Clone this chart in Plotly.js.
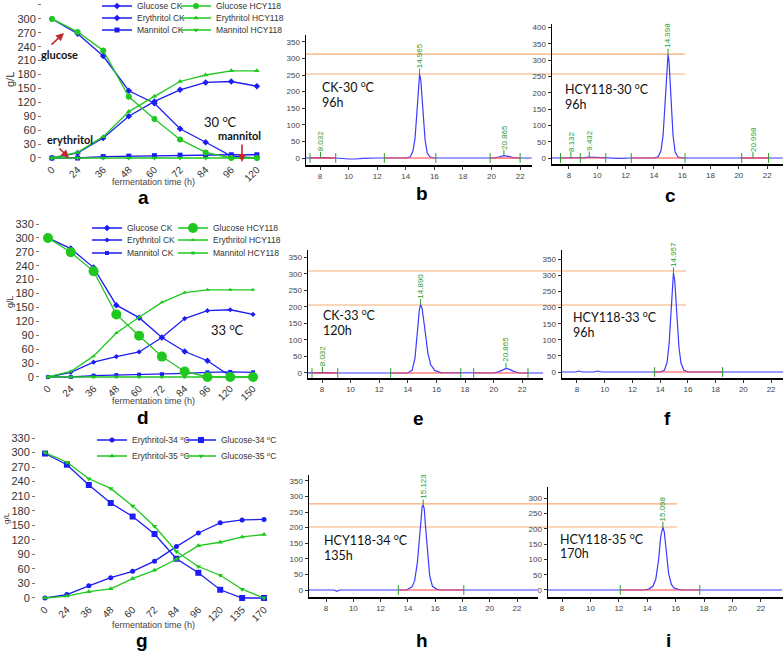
<!DOCTYPE html>
<html><head><meta charset="utf-8">
<script src="https://cdn.plot.ly/plotly-3.0.1.min.js"></script>
<style>html,body{margin:0;padding:0;background:#fff}#chart{width:783px;height:653px}</style>
</head><body><div id="chart"></div>
<script>
// ---------------- data: panel a (30 °C) ----------------
const timesA = ['0','24','36','48','60','72','84','96','120'];
const glucoseCK_A = [300,268,220,145,118,63,34,4,0];
const erythritolCK_A = [0,11,43,90,122,147,163,165,155];
const mannitolCK_A = [0,0,3,4,5,6,6,7,7];
const glucoseHCY_A = [300,272,232,132,84,40,12,0,0];
const erythritolHCY_A = [0,12,46,100,133,165,179,188,188];
const mannitolHCY_A = [0,0,0,0,0,0,0,0,0];
// ---------------- data: panel d (33 °C) ----------------
const timesD = ['0','24','36','48','60','72','84','96','120','150'];
const glucoseCK_D = [300,277,236,155,128,85,55,35,2,null];
const erythritolCK_D = [0,10,32,44,54,85,126,143,145,135];
const mannitolCK_D = [0,0,3,4,5,6,8,10,11,10];
const glucoseHCY_D = [300,269,228,135,89,44,12,0,0,0];
const erythritolHCY_D = [0,12,45,95,129,161,182,188,188,188];
const mannitolHCY_D = [0,0,0,0,0,0,0,0,0,0];
// ---------------- data: panel g (34/35 °C) ----------------
const timesG = ['0','24','36','48','60','72','84','96','120','135','170'];
const erythritol34 = [0,7,25,42,55,76,106,134,155,161,162];
const erythritol35 = [0,4,13,19,40,57,80,108,115,126,131];
const glucose34 = [298,275,233,196,168,132,81,52,17,0,0];
const glucose35 = [300,280,246,226,190,148,96,65,47,18,0];
// ---------------- chromatograms (time min, signal) ----------------
const tB = [7.0,7.8,8.032,8.3,9.1,9.5,10.0,10.5,11.0,12.0,14.0,14.3,14.5,14.65,14.8,14.9,14.965,15.05,15.2,15.35,15.5,15.7,16.0,20.2,20.5,20.865,21.2,21.5,21.8,22.8];
const sB = [0,1,2,1,0,-2,-3,-3,-1,0,0,3,20,60,160,235,252,235,150,55,15,3,0,0,3,7,5,1,0,0];
const tC = [6.8,7.6,8.132,8.5,9.1,9.432,9.8,10.2,10.6,11.0,11.5,12.4,14.0,14.3,14.5,14.65,14.8,14.93,14.998,15.07,15.2,15.35,15.5,15.7,16.0,20.5,20.998,21.5,23.1];
const sC = [0,0,1,0,1,3,2,1,1,-1,-1,0,0,4,22,70,180,290,318,295,190,70,18,3,0,0,1,0,0];
const tE = [7.0,7.8,8.032,8.3,9.0,12.0,14.0,14.3,14.5,14.7,14.8,14.89,15.0,15.2,15.4,15.6,15.9,16.3,20.0,20.4,20.65,20.865,21.1,21.4,21.8,23.45];
const sE = [0,1,2,1,0,0,0,8,45,140,190,207,195,130,60,25,7,1,0,4,10,14,11,5,0,0];
const tF = [6.9,7.9,8.15,8.4,9.2,9.5,9.8,12.0,14.0,14.3,14.5,14.65,14.8,14.9,14.957,15.05,15.2,15.35,15.5,15.7,16.0,22.9];
const sF = [0,0,3,0,0,3,0,0,0,5,30,90,210,290,307,285,185,80,28,6,0,0];
const tH = [6.75,8.6,8.8,9.0,12.0,13.9,14.3,14.5,14.7,14.85,15.0,15.05,15.123,15.2,15.3,15.45,15.6,15.8,16.1,16.4,23.5];
const sH = [0,0,-4,0,0,0,10,30,90,170,250,268,272,260,200,110,45,12,3,0,0];
const tI = [7.0,13.8,14.1,14.4,14.6,14.8,14.95,15.098,15.2,15.35,15.5,15.7,15.9,16.2,16.5,23.5];
const sI = [0,0,3,12,35,100,175,205,190,120,55,18,6,2,0,0];
// peak labels
const peakTimesB = [8.032,14.965,20.865], peakHeightsB = [2,252,7];
const peakTimesC = [8.132,9.432,14.998,20.998], peakHeightsC = [1,3,318,1];
const peakTimesE = [8.032,14.890,20.865], peakHeightsE = [2,207,14];
const peakTimesF = [14.957], peakHeightsF = [307];
const peakTimesH = [15.123], peakHeightsH = [272];
const peakTimesI = [15.098], peakHeightsI = [205];
// integration marks and baselines
const marksB = [7.3,9.1,12.5,16.1,19.9,22.0];
const marksC = [7.4,8.8,10.6,12.4,16.2,20.2,22.1];
const marksE = [7.3,9.1,12.8,17.7,18.6,22.4];
const marksF = [13.6,18.5];
const marksH = [13.3,18.1];
const marksI = [12.1,17.7];
const baseB = [[7.3,9.1],[12.5,16.1],[19.9,22.0]];
const baseC = [[7.4,10.6],[12.4,16.2],[20.2,22.1]];
const baseE = [[7.3,9.1],[12.8,17.7],[18.6,22.4]];
const baseF = [[13.6,18.5]];
const baseH = [[13.3,18.1]];
const baseI = [[12.1,17.7]];
// orange reference levels
const refLinesB = [313,253];
const refLinesE = [309,206];
const refLinesH = [276,202];

// ---------------- helpers ----------------
const W = 783, H = 653;
const P = px => px / W, Q = py => 1 - py / H;
const F = 'Liberation Sans, Arial, sans-serif';
const FC = 'Lato, sans-serif';
const BLUE = '#1c1cf5', GREEN = '#1fc71f';
const CHB = '#3b3bff', RED = '#ff4040', GRN = '#2e9a2e', ORANGE = '#f6ad78';

const traces = [];
const ann = [];
const shapes = [];

function series(x, y, name, color, symbol, size, xa, ya, legend) {
  traces.push({type:'scatter', mode:'lines+markers', x, y, name, xaxis:xa, yaxis:ya, legend,
    line:{color, width:1.3}, marker:{color, symbol, size}, cliponaxis:false});
}

series(timesA, glucoseCK_A, 'Glucose CK', BLUE, 'diamond', 5, 'x', 'y', 'legend');
series(timesA, erythritolCK_A, 'Erythritol CK', BLUE, 'diamond', 5, 'x', 'y', 'legend2');
series(timesA, mannitolCK_A, 'Mannitol CK', BLUE, 'square', 5, 'x', 'y', 'legend3');
series(timesA, glucoseHCY_A, 'Glucose HCY118', GREEN, 'circle', 6, 'x', 'y', 'legend4');
series(timesA, erythritolHCY_A, 'Erythritol HCY118', GREEN, 'triangle-up', 5, 'x', 'y', 'legend5');
series(timesA, mannitolHCY_A, 'Mannitol HCY118', GREEN, 'triangle-down', 5, 'x', 'y', 'legend6');

series(timesD, glucoseCK_D, 'Glucose CK', BLUE, 'diamond', 5, 'x2', 'y2', 'legend7');
series(timesD, erythritolCK_D, 'Erythritol CK', BLUE, 'diamond', 4, 'x2', 'y2', 'legend8');
series(timesD, mannitolCK_D, 'Mannitol CK', BLUE, 'square', 4, 'x2', 'y2', 'legend9');
series(timesD, glucoseHCY_D, 'Glucose HCY118', GREEN, 'circle', 10, 'x2', 'y2', 'legend10');
series(timesD, erythritolHCY_D, 'Erythritol HCY118', GREEN, 'triangle-up', 4, 'x2', 'y2', 'legend11');
series(timesD, mannitolHCY_D, 'Mannitol HCY118', GREEN, 'square', 3, 'x2', 'y2', 'legend12');

series(timesG, erythritol34, 'Erythritol-34 <sup>o</sup>C', BLUE, 'circle', 5, 'x3', 'y3', 'legend13');
series(timesG, glucose34, 'Glucose-34 <sup>o</sup>C', BLUE, 'square', 6, 'x3', 'y3', 'legend15');
series(timesG, erythritol35, 'Erythritol-35 <sup>o</sup>C', GREEN, 'triangle-up', 5, 'x3', 'y3', 'legend14');
series(timesG, glucose35, 'Glucose-35 <sup>o</sup>C', GREEN, 'triangle-down', 5, 'x3', 'y3', 'legend16');

function chrom(t, s, base, marks, pkT, pkH, xa, ya) {
  traces.push({type:'scatter', mode:'lines', x:t, y:s, xaxis:xa, yaxis:ya,
    line:{color:CHB, width:1.2}, showlegend:false});
  const bx = [], by = [];
  base.forEach(([a, b]) => { bx.push(a, b, null); by.push(0, 0, null); });
  traces.push({type:'scatter', mode:'lines', x:bx, y:by, xaxis:xa, yaxis:ya,
    line:{color:RED, width:1.2}, showlegend:false});
  traces.push({type:'scatter', mode:'markers', x:marks, y:marks.map(() => 0), xaxis:xa, yaxis:ya,
    marker:{symbol:'line-ns', size:7, color:GRN, line:{width:1, color:GRN}}, showlegend:false, cliponaxis:false});
  pkT.forEach((tt, i) => {
    const label = tt.toFixed(3);
    const half = label.length * 2.1;           // half of the rotated label length (px)
    ann.push({xref:xa, yref:ya, x:tt, y:pkH[i], text:label, textangle:-90,
      showarrow:true, arrowhead:0, arrowwidth:1, arrowcolor:GRN, ax:0, ay:-(6 + half),
      standoff:0, borderpad:0, font:{size:8, color:GRN, family:F}});
  });
}
chrom(tB, sB, baseB, marksB, peakTimesB, peakHeightsB, 'x4', 'y4');
chrom(tC, sC, baseC, marksC, peakTimesC, peakHeightsC, 'x5', 'y5');
chrom(tE, sE, baseE, marksE, peakTimesE, peakHeightsE, 'x6', 'y6');
chrom(tF, sF, baseF, marksF, peakTimesF, peakHeightsF, 'x7', 'y7');
chrom(tH, sH, baseH, marksH, peakTimesH, peakHeightsH, 'x8', 'y8');
chrom(tI, sI, baseI, marksI, peakTimesI, peakHeightsI, 'x9', 'y9');

function refLines(vals, ya, x0px, x1px) {
  vals.forEach(v => shapes.push({type:'line', xref:'paper', yref:ya, x0:P(x0px), x1:P(x1px), y0:v, y1:v,
    line:{color:ORANGE, width:1.2}, layer:'below'}));
}
refLines(refLinesB, 'y4', 306, 685);
refLines(refLinesE, 'y6', 308, 686);
refLines(refLinesH, 'y8', 309, 677);

// ---------------- axes ----------------
function catX(dom, range, anchor) {
  return {type:'category', domain:[P(dom[0]), P(dom[1])], range, anchor, tickangle:-45,
    tickfont:{size:10, color:'#333', family:F}, ticks:'', showline:false, showgrid:false, zeroline:false, fixedrange:true};
}
function leftY(dom, range, anchor) {
  return {domain:[Q(dom[1]), Q(dom[0])], range, anchor, tick0:0, dtick:30,
    tickfont:{size:11, color:'#333', family:F}, ticks:'outside', ticklen:3, tickcolor:'#777',
    showline:false, showgrid:false, zeroline:false, fixedrange:true};
}
function cX(dom, range, anchor) {
  return {domain:[P(dom[0]), P(dom[1])], range, anchor, tick0:0, dtick:2,
    showline:true, linecolor:'#000', linewidth:1.5, ticks:'outside', ticklen:3, tickcolor:'#333',
    tickfont:{size:8, color:'#444', family:F}, showgrid:false, zeroline:false, fixedrange:true};
}
function cY(dom, range, anchor) {
  return {domain:[Q(dom[1]), Q(dom[0])], range, anchor, tick0:0, dtick:50,
    showline:true, linecolor:'#000', linewidth:1.5, ticks:'outside', ticklen:3, tickcolor:'#333',
    tickfont:{size:8, color:'#444', family:F}, showgrid:false, zeroline:false, fixedrange:true};
}

// ---------------- text ----------------
function txt(x, y, text, size, opts) {
  ann.push(Object.assign({xref:'paper', yref:'paper', x:P(x), y:Q(y), text, showarrow:false,
    xanchor:'center', yanchor:'middle', font:{family:F, size, color:'#111'}}, opts || {}));
}
function arrow(hx, hy, tx, ty) {
  ann.push({xref:'paper', yref:'paper', x:P(hx), y:Q(hy), ax:tx - hx, ay:ty - hy, text:'',
    showarrow:true, arrowhead:2, arrowsize:1, arrowwidth:1.6, arrowcolor:'#c0282d'});
}
// panel letters
[['a',143,198],['b',422,194],['c',670,196],['d',143,417],['e',418,418],['f',667,418],['g',142,640],['h',422,640],['i',668,640]]
  .forEach(([l, x, y]) => txt(x, y, '<b>' + l + '</b>', 19, {font:{family:F, size:19, color:'#000'}}));
// axis titles of left panels
txt(153, 182, 'fermentation time (h)', 9, {font:{family:F, size:9, color:'#444'}});
txt(153, 401, 'fermentation time (h)', 9, {font:{family:F, size:9, color:'#444'}});
txt(153, 625, 'fermentation time (h)', 9, {font:{family:F, size:9, color:'#444'}});
txt(10, 80, 'g/L', 11, {textangle:-90, font:{family:F, size:11, color:'#333'}});
txt(10, 302, 'g/L', 9, {textangle:-90, font:{family:F, size:9, color:'#333'}});
txt(6, 518, 'g/L', 8, {textangle:-90, font:{family:F, size:8, color:'#333'}});
// panel a notes
txt(60, 55, '<b>glucose</b>', 11, {font:{family:FC, size:11, color:'#111'}});
txt(70, 139, '<b>erythritol</b>', 11, {font:{family:FC, size:11, color:'#111'}});
txt(239, 135, '<b>mannitol</b>', 11, {font:{family:FC, size:11, color:'#111'}});
arrow(64, 33, 50, 46);
arrow(69, 158, 58, 147);
arrow(242, 162, 242, 143);
txt(220, 121, '30 <sup>o</sup>C', 13, {font:{family:FC, size:13, color:'#111'}});
txt(227, 329, '33 <sup>o</sup>C', 13, {font:{family:FC, size:13, color:'#111'}});
// chromatogram labels
[['CK-30 <sup>o</sup>C',320,86],['96h',320,102],['HCY118-30 <sup>o</sup>C',563,88],['96h',563,104],
 ['CK-33 <sup>o</sup>C',321,314],['120h',321,330],['HCY118-33 <sup>o</sup>C',571,316],['96h',571,332],
 ['HCY118-34 <sup>o</sup>C',322,539],['135h',322,555],['HCY118-35 <sup>o</sup>C',558,538],['170h',558,553]]
  .forEach(([s, x, y]) => txt(x, y, s, 12, {xanchor:'left', font:{family:FC, size:12.5, color:'#111'}}));

// ---------------- legends ----------------
const legendSpots = [
  [97,6],[97,18],[97,30],[176,6],[176,18],[176,30],
  [87,228],[87,240],[87,253],[173,228],[173,240],[173,253],
  [92,440],[92,456],[181,440],[181,456]
];
const layout = {
  width:W, height:H,
  margin:{l:0, r:0, t:0, b:0, autoexpand:false},
  paper_bgcolor:'#fff', plot_bgcolor:'rgba(0,0,0,0)',
  hovermode:false, showlegend:true,
  font:{family:F},
  xaxis: catX([42,262], [-0.39, 8.2], 'y'),
  yaxis: leftY([3,161], [-6.5, 334.3], 'x'),
  xaxis2: catX([40,262], [-0.351, 9.394], 'y2'),
  yaxis2: leftY([221,380], [-6.5, 336.5], 'x2'),
  xaxis3: catX([36,266], [-0.411, 10.09], 'y3'),
  yaxis3: leftY([435,601], [-6.2, 336.2], 'x3'),
  xaxis4: cX([306,532], [7.02, 22.83], 'y4'),
  yaxis4: cY([35,165], [-21.1, 370.5], 'x4'),
  xaxis5: cX([552,783], [6.80, 23.12], 'y5'),
  yaxis5: cY([24,164], [-18.4, 411], 'x5'),
  xaxis6: cX([308,543], [7.02, 23.45], 'y6'),
  yaxis6: cY([250,378], [-15.2, 372.7], 'x6'),
  xaxis7: cX([562,783], [6.92, 22.86], 'y7'),
  yaxis7: cY([250,378], [-18.6, 378.9], 'x7'),
  xaxis8: cX([309,538], [6.75, 23.54], 'y8'),
  yaxis8: cY([475,597], [-22.4, 368.6], 'x8'),
  xaxis9: cX([548,783], [7.01, 23.56], 'y9'),
  yaxis9: cY([487,597], [-22.9, 336.6], 'x9'),
  annotations: ann,
  shapes: shapes
};
legendSpots.forEach(([x, y], i) => {
  layout[i === 0 ? 'legend' : 'legend' + (i + 1)] = {x:P(x), y:Q(y), xanchor:'left', yanchor:'middle',
    bgcolor:'rgba(0,0,0,0)', borderwidth:0, itemwidth:30, tracegroupgap:0,
    font:{family:F, size:8.5, color:'#333'}};
});
Plotly.newPlot('chart', traces, layout, {staticPlot:true, displayModeBar:false});
</script>
</body></html>
